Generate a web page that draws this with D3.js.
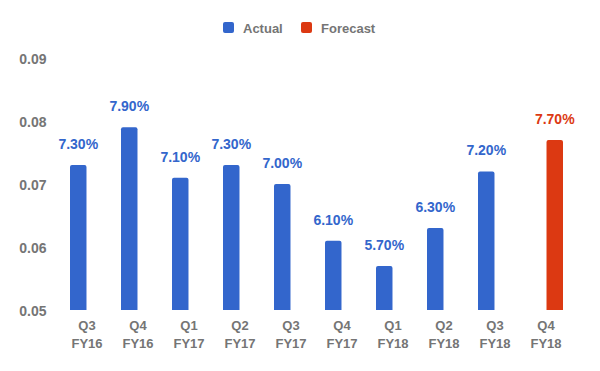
<!DOCTYPE html>
<html>
<head>
<meta charset="utf-8">
<script src="https://cdn.jsdelivr.net/npm/d3@7"></script>
<style>
  body { margin: 0; background: #fff; }
  svg text { font-family: "Liberation Sans", Arial, sans-serif; font-weight: bold; }
</style>
</head>
<body>
<div id="chart"></div>
<script>
// chart values
var quarters = ["Q3", "Q4", "Q1", "Q2", "Q3", "Q4", "Q1", "Q2", "Q3", "Q4"];
var years = ["FY16", "FY16", "FY17", "FY17", "FY17", "FY17", "FY18", "FY18", "FY18", "FY18"];
var actual = [0.073, 0.079, 0.071, 0.073, 0.070, 0.061, 0.057, 0.063, 0.072, null];
var forecast = [null, null, null, null, null, null, null, null, null, 0.077];
var seriesNames = ["Actual", "Forecast"];
var yTicks = [0.05, 0.06, 0.07, 0.08, 0.09];

var colors = { "Actual": "#3366cc", "Forecast": "#dc3912" };
var grey = "#757575";

var svgWidth = 600;
var svgHeight = 371;

var svg = d3.select("#chart")
    .append("svg")
    .attr("width", svgWidth)
    .attr("height", svgHeight);

// scales
var x0 = d3.scaleBand()
    .domain(d3.range(quarters.length))
    .range([61.5, 571.5]);

var x1 = d3.scaleBand()
    .domain(seriesNames)
    .range([x0.bandwidth() / 2 - 17, x0.bandwidth() / 2 + 17])
    .paddingInner(2 / 34);

var y = d3.scaleLinear()
    .domain([0.05, 0.09])
    .range([310, 58]);

// y axis labels only, no lines
var yAxis = svg.append("g")
    .attr("transform", "translate(46.5,1)")
    .call(d3.axisLeft(y).tickValues(yTicks).tickFormat(d3.format(".2f")).tickSize(0).tickPadding(0));
yAxis.select(".domain").remove();
yAxis.selectAll("text")
    .attr("fill", grey)
    .style("font-size", "14px")
    .style("font-family", "'Liberation Sans', Arial, sans-serif")
    .style("font-weight", "bold");

// x axis labels, two lines
var xAxis = svg.append("g")
    .attr("transform", "translate(0,310)")
    .call(d3.axisBottom(x0).tickSize(0).tickFormat(""));
xAxis.select(".domain").remove();
xAxis.selectAll(".tick").each(function(d) {
    var t = d3.select(this).append("text")
        .attr("fill", grey)
        .attr("text-anchor", "middle")
        .style("font-size", "13px");
    t.append("tspan").attr("x", 0).attr("y", 20).text(quarters[d]);
    t.append("tspan").attr("x", 0).attr("y", 38).text(years[d]);
});

// rounded-top bar path
function barPath(x, yTop, w, yBottom, r) {
    return "M" + x + "," + yBottom +
        "V" + (yTop + r) +
        "Q" + x + "," + yTop + " " + (x + r) + "," + yTop +
        "H" + (x + w - r) +
        "Q" + (x + w) + "," + yTop + " " + (x + w) + "," + (yTop + r) +
        "V" + yBottom + "Z";
}

var fmt = d3.format(".2%");

seriesNames.forEach(function(name) {
    var vals = name === "Actual" ? actual : forecast;
    var rows = vals.map(function(v, i) { return { i: i, v: v }; })
        .filter(function(d) { return d.v !== null; });

    var g = svg.append("g");
    g.selectAll("path")
        .data(rows)
        .enter()
        .append("path")
        .attr("d", function(d) {
            return barPath(x0(d.i) + x1(name), y(d.v), x1.bandwidth(), y(0.05), 2);
        })
        .attr("fill", colors[name]);

    g.selectAll("text")
        .data(rows)
        .enter()
        .append("text")
        .attr("x", function(d) { return x0(d.i) + x1(name) + x1.bandwidth() / 2; })
        .attr("y", function(d) { return y(d.v) - 16; })
        .attr("text-anchor", "middle")
        .attr("fill", colors[name])
        .style("font-size", "14px")
        .text(function(d) { return fmt(d.v); });
});

// legend
var legendX = [223, 301];
var legend = svg.append("g");
seriesNames.forEach(function(name, i) {
    legend.append("rect")
        .attr("x", legendX[i])
        .attr("y", 22)
        .attr("width", 11)
        .attr("height", 11)
        .attr("rx", 2)
        .attr("fill", colors[name]);
    legend.append("text")
        .attr("x", legendX[i] + 20)
        .attr("y", 32.5)
        .attr("fill", grey)
        .style("font-size", "13px")
        .text(name);
});
</script>
</body>
</html>
